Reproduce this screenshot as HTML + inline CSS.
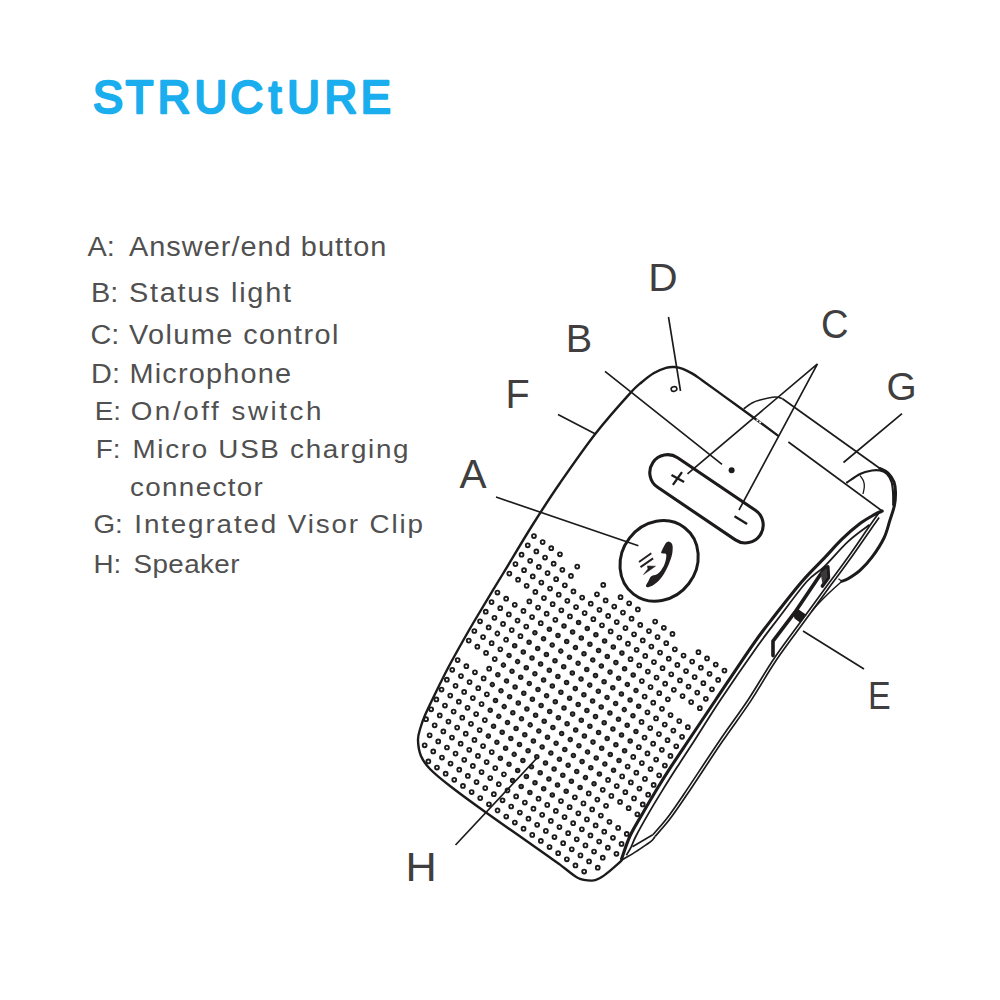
<!DOCTYPE html>
<html><head><meta charset="utf-8"><title>Structure</title>
<style>
html,body{margin:0;padding:0;background:#fff;}
svg{display:block;font-family:"Liberation Sans",sans-serif;}
</style></head>
<body>
<svg width="1000" height="1000" viewBox="0 0 1000 1000">
<rect width="1000" height="1000" fill="#fff"/>
<path d="M532.0 536.0 a1.9 1.9 0 1 0 3.9 0a1.9 1.9 0 1 0 -3.9 0M540.7 542.1 a1.9 1.9 0 1 0 3.9 0a1.9 1.9 0 1 0 -3.9 0M549.3 548.2 a1.9 1.9 0 1 0 3.9 0a1.9 1.9 0 1 0 -3.9 0M558.0 554.3 a1.9 1.9 0 1 0 3.9 0a1.9 1.9 0 1 0 -3.9 0M575.3 566.6 a1.9 1.9 0 1 0 3.9 0a1.9 1.9 0 1 0 -3.9 0M601.3 584.9 a1.9 1.9 0 1 0 3.9 0a1.9 1.9 0 1 0 -3.9 0M618.6 597.2 a1.9 1.9 0 1 0 3.9 0a1.9 1.9 0 1 0 -3.9 0M627.2 603.3 a1.9 1.9 0 1 0 3.9 0a1.9 1.9 0 1 0 -3.9 0M635.9 609.4 a1.9 1.9 0 1 0 3.9 0a1.9 1.9 0 1 0 -3.9 0M653.2 621.6 a1.9 1.9 0 1 0 3.9 0a1.9 1.9 0 1 0 -3.9 0M661.9 627.8 a1.9 1.9 0 1 0 3.9 0a1.9 1.9 0 1 0 -3.9 0M670.5 633.9 a1.9 1.9 0 1 0 3.9 0a1.9 1.9 0 1 0 -3.9 0M696.5 652.2 a1.9 1.9 0 1 0 3.9 0a1.9 1.9 0 1 0 -3.9 0M705.1 658.4 a1.9 1.9 0 1 0 3.9 0a1.9 1.9 0 1 0 -3.9 0M713.8 664.5 a1.9 1.9 0 1 0 3.9 0a1.9 1.9 0 1 0 -3.9 0M722.5 670.6 a1.9 1.9 0 1 0 3.9 0a1.9 1.9 0 1 0 -3.9 0M525.8 545.3 a1.9 1.9 0 1 0 3.9 0a1.9 1.9 0 1 0 -3.9 0M534.4 551.4 a1.9 1.9 0 1 0 3.9 0a1.9 1.9 0 1 0 -3.9 0M543.1 557.5 a1.9 1.9 0 1 0 3.9 0a1.9 1.9 0 1 0 -3.9 0M551.7 563.7 a1.9 1.9 0 1 0 3.9 0a1.9 1.9 0 1 0 -3.9 0M560.4 569.8 a1.9 1.9 0 1 0 3.9 0a1.9 1.9 0 1 0 -3.9 0M569.0 575.9 a1.9 1.9 0 1 0 3.9 0a1.9 1.9 0 1 0 -3.9 0M595.0 594.3 a1.9 1.9 0 1 0 3.9 0a1.9 1.9 0 1 0 -3.9 0M603.7 600.4 a1.9 1.9 0 1 0 3.9 0a1.9 1.9 0 1 0 -3.9 0M612.3 606.5 a1.9 1.9 0 1 0 3.9 0a1.9 1.9 0 1 0 -3.9 0M621.0 612.6 a1.9 1.9 0 1 0 3.9 0a1.9 1.9 0 1 0 -3.9 0M629.6 618.7 a1.9 1.9 0 1 0 3.9 0a1.9 1.9 0 1 0 -3.9 0M638.3 624.9 a1.9 1.9 0 1 0 3.9 0a1.9 1.9 0 1 0 -3.9 0M647.0 631.0 a1.9 1.9 0 1 0 3.9 0a1.9 1.9 0 1 0 -3.9 0M655.6 637.1 a1.9 1.9 0 1 0 3.9 0a1.9 1.9 0 1 0 -3.9 0M664.3 643.2 a1.9 1.9 0 1 0 3.9 0a1.9 1.9 0 1 0 -3.9 0M672.9 649.3 a1.9 1.9 0 1 0 3.9 0a1.9 1.9 0 1 0 -3.9 0M681.6 655.5 a1.9 1.9 0 1 0 3.9 0a1.9 1.9 0 1 0 -3.9 0M690.2 661.6 a1.9 1.9 0 1 0 3.9 0a1.9 1.9 0 1 0 -3.9 0M698.9 667.7 a1.9 1.9 0 1 0 3.9 0a1.9 1.9 0 1 0 -3.9 0M707.6 673.8 a1.9 1.9 0 1 0 3.9 0a1.9 1.9 0 1 0 -3.9 0M716.2 679.9 a1.9 1.9 0 1 0 3.9 0a1.9 1.9 0 1 0 -3.9 0M519.6 554.7 a1.9 1.9 0 1 0 3.9 0a1.9 1.9 0 1 0 -3.9 0M528.2 560.8 a1.9 1.9 0 1 0 3.9 0a1.9 1.9 0 1 0 -3.9 0M536.9 566.9 a1.9 1.9 0 1 0 3.9 0a1.9 1.9 0 1 0 -3.9 0M545.6 573.1 a1.9 1.9 0 1 0 3.9 0a1.9 1.9 0 1 0 -3.9 0M554.2 579.2 a1.9 1.9 0 1 0 3.9 0a1.9 1.9 0 1 0 -3.9 0M562.9 585.3 a1.9 1.9 0 1 0 3.9 0a1.9 1.9 0 1 0 -3.9 0M571.5 591.4 a1.9 1.9 0 1 0 3.9 0a1.9 1.9 0 1 0 -3.9 0M580.2 597.5 a1.9 1.9 0 1 0 3.9 0a1.9 1.9 0 1 0 -3.9 0M588.8 603.7 a1.9 1.9 0 1 0 3.9 0a1.9 1.9 0 1 0 -3.9 0M597.5 609.8 a1.9 1.9 0 1 0 3.9 0a1.9 1.9 0 1 0 -3.9 0M606.2 615.9 a1.9 1.9 0 1 0 3.9 0a1.9 1.9 0 1 0 -3.9 0M614.8 622.0 a1.9 1.9 0 1 0 3.9 0a1.9 1.9 0 1 0 -3.9 0M623.5 628.1 a1.9 1.9 0 1 0 3.9 0a1.9 1.9 0 1 0 -3.9 0M632.1 634.3 a1.9 1.9 0 1 0 3.9 0a1.9 1.9 0 1 0 -3.9 0M640.8 640.4 a1.9 1.9 0 1 0 3.9 0a1.9 1.9 0 1 0 -3.9 0M649.4 646.5 a1.9 1.9 0 1 0 3.9 0a1.9 1.9 0 1 0 -3.9 0M658.1 652.6 a1.9 1.9 0 1 0 3.9 0a1.9 1.9 0 1 0 -3.9 0M666.8 658.7 a1.9 1.9 0 1 0 3.9 0a1.9 1.9 0 1 0 -3.9 0M675.4 664.9 a1.9 1.9 0 1 0 3.9 0a1.9 1.9 0 1 0 -3.9 0M684.1 671.0 a1.9 1.9 0 1 0 3.9 0a1.9 1.9 0 1 0 -3.9 0M692.7 677.1 a1.9 1.9 0 1 0 3.9 0a1.9 1.9 0 1 0 -3.9 0M701.4 683.2 a1.9 1.9 0 1 0 3.9 0a1.9 1.9 0 1 0 -3.9 0M710.0 689.3 a1.9 1.9 0 1 0 3.9 0a1.9 1.9 0 1 0 -3.9 0M513.5 564.1 a1.9 1.9 0 1 0 3.9 0a1.9 1.9 0 1 0 -3.9 0M522.1 570.2 a1.9 1.9 0 1 0 3.9 0a1.9 1.9 0 1 0 -3.9 0M530.8 576.4 a1.9 1.9 0 1 0 3.9 0a1.9 1.9 0 1 0 -3.9 0M539.4 582.5 a1.9 1.9 0 1 0 3.9 0a1.9 1.9 0 1 0 -3.9 0M548.1 588.6 a1.9 1.9 0 1 0 3.9 0a1.9 1.9 0 1 0 -3.9 0M556.8 594.7 a1.9 1.9 0 1 0 3.9 0a1.9 1.9 0 1 0 -3.9 0M565.4 600.8 a1.9 1.9 0 1 0 3.9 0a1.9 1.9 0 1 0 -3.9 0M574.1 607.0 a1.9 1.9 0 1 0 3.9 0a1.9 1.9 0 1 0 -3.9 0M582.7 613.1 a1.9 1.9 0 1 0 3.9 0a1.9 1.9 0 1 0 -3.9 0M591.4 619.2 a1.9 1.9 0 1 0 3.9 0a1.9 1.9 0 1 0 -3.9 0M600.0 625.3 a1.9 1.9 0 1 0 3.9 0a1.9 1.9 0 1 0 -3.9 0M608.7 631.4 a1.9 1.9 0 1 0 3.9 0a1.9 1.9 0 1 0 -3.9 0M617.4 637.6 a1.9 1.9 0 1 0 3.9 0a1.9 1.9 0 1 0 -3.9 0M626.0 643.7 a1.9 1.9 0 1 0 3.9 0a1.9 1.9 0 1 0 -3.9 0M634.7 649.8 a1.9 1.9 0 1 0 3.9 0a1.9 1.9 0 1 0 -3.9 0M643.3 655.9 a1.9 1.9 0 1 0 3.9 0a1.9 1.9 0 1 0 -3.9 0M652.0 662.0 a1.9 1.9 0 1 0 3.9 0a1.9 1.9 0 1 0 -3.9 0M660.6 668.2 a1.9 1.9 0 1 0 3.9 0a1.9 1.9 0 1 0 -3.9 0M669.3 674.3 a1.9 1.9 0 1 0 3.9 0a1.9 1.9 0 1 0 -3.9 0M678.0 680.4 a1.9 1.9 0 1 0 3.9 0a1.9 1.9 0 1 0 -3.9 0M686.6 686.5 a1.9 1.9 0 1 0 3.9 0a1.9 1.9 0 1 0 -3.9 0M695.3 692.6 a1.9 1.9 0 1 0 3.9 0a1.9 1.9 0 1 0 -3.9 0M703.9 698.8 a1.9 1.9 0 1 0 3.9 0a1.9 1.9 0 1 0 -3.9 0M507.4 573.6 a1.9 1.9 0 1 0 3.9 0a1.9 1.9 0 1 0 -3.9 0M516.1 579.7 a1.9 1.9 0 1 0 3.9 0a1.9 1.9 0 1 0 -3.9 0M524.7 585.8 a1.9 1.9 0 1 0 3.9 0a1.9 1.9 0 1 0 -3.9 0M533.4 591.9 a1.9 1.9 0 1 0 3.9 0a1.9 1.9 0 1 0 -3.9 0M542.0 598.0 a1.9 1.9 0 1 0 3.9 0a1.9 1.9 0 1 0 -3.9 0M550.7 604.2 a1.9 1.9 0 1 0 3.9 0a1.9 1.9 0 1 0 -3.9 0M559.4 610.3 a1.9 1.9 0 1 0 3.9 0a1.9 1.9 0 1 0 -3.9 0M568.0 616.4 a1.9 1.9 0 1 0 3.9 0a1.9 1.9 0 1 0 -3.9 0M628.6 659.2 a1.9 1.9 0 1 0 3.9 0a1.9 1.9 0 1 0 -3.9 0M637.3 665.4 a1.9 1.9 0 1 0 3.9 0a1.9 1.9 0 1 0 -3.9 0M645.9 671.5 a1.9 1.9 0 1 0 3.9 0a1.9 1.9 0 1 0 -3.9 0M654.6 677.6 a1.9 1.9 0 1 0 3.9 0a1.9 1.9 0 1 0 -3.9 0M663.2 683.7 a1.9 1.9 0 1 0 3.9 0a1.9 1.9 0 1 0 -3.9 0M671.9 689.8 a1.9 1.9 0 1 0 3.9 0a1.9 1.9 0 1 0 -3.9 0M680.6 696.0 a1.9 1.9 0 1 0 3.9 0a1.9 1.9 0 1 0 -3.9 0M689.2 702.1 a1.9 1.9 0 1 0 3.9 0a1.9 1.9 0 1 0 -3.9 0M697.9 708.2 a1.9 1.9 0 1 0 3.9 0a1.9 1.9 0 1 0 -3.9 0M527.4 601.4 a1.9 1.9 0 1 0 3.9 0a1.9 1.9 0 1 0 -3.9 0M536.1 607.5 a1.9 1.9 0 1 0 3.9 0a1.9 1.9 0 1 0 -3.9 0M544.7 613.7 a1.9 1.9 0 1 0 3.9 0a1.9 1.9 0 1 0 -3.9 0M553.4 619.8 a1.9 1.9 0 1 0 3.9 0a1.9 1.9 0 1 0 -3.9 0M639.9 681.0 a1.9 1.9 0 1 0 3.9 0a1.9 1.9 0 1 0 -3.9 0M648.6 687.1 a1.9 1.9 0 1 0 3.9 0a1.9 1.9 0 1 0 -3.9 0M657.3 693.2 a1.9 1.9 0 1 0 3.9 0a1.9 1.9 0 1 0 -3.9 0M665.9 699.3 a1.9 1.9 0 1 0 3.9 0a1.9 1.9 0 1 0 -3.9 0M495.5 592.6 a1.9 1.9 0 1 0 3.9 0a1.9 1.9 0 1 0 -3.9 0M504.2 598.7 a1.9 1.9 0 1 0 3.9 0a1.9 1.9 0 1 0 -3.9 0M512.8 604.8 a1.9 1.9 0 1 0 3.9 0a1.9 1.9 0 1 0 -3.9 0M521.5 610.9 a1.9 1.9 0 1 0 3.9 0a1.9 1.9 0 1 0 -3.9 0M530.1 617.0 a1.9 1.9 0 1 0 3.9 0a1.9 1.9 0 1 0 -3.9 0M538.8 623.2 a1.9 1.9 0 1 0 3.9 0a1.9 1.9 0 1 0 -3.9 0M642.7 696.6 a1.9 1.9 0 1 0 3.9 0a1.9 1.9 0 1 0 -3.9 0M651.3 702.7 a1.9 1.9 0 1 0 3.9 0a1.9 1.9 0 1 0 -3.9 0M660.0 708.8 a1.9 1.9 0 1 0 3.9 0a1.9 1.9 0 1 0 -3.9 0M668.6 715.0 a1.9 1.9 0 1 0 3.9 0a1.9 1.9 0 1 0 -3.9 0M677.3 721.1 a1.9 1.9 0 1 0 3.9 0a1.9 1.9 0 1 0 -3.9 0M685.9 727.2 a1.9 1.9 0 1 0 3.9 0a1.9 1.9 0 1 0 -3.9 0M489.6 602.1 a1.9 1.9 0 1 0 3.9 0a1.9 1.9 0 1 0 -3.9 0M498.3 608.2 a1.9 1.9 0 1 0 3.9 0a1.9 1.9 0 1 0 -3.9 0M506.9 614.4 a1.9 1.9 0 1 0 3.9 0a1.9 1.9 0 1 0 -3.9 0M515.6 620.5 a1.9 1.9 0 1 0 3.9 0a1.9 1.9 0 1 0 -3.9 0M524.3 626.6 a1.9 1.9 0 1 0 3.9 0a1.9 1.9 0 1 0 -3.9 0M645.5 712.3 a1.9 1.9 0 1 0 3.9 0a1.9 1.9 0 1 0 -3.9 0M654.1 718.4 a1.9 1.9 0 1 0 3.9 0a1.9 1.9 0 1 0 -3.9 0M662.8 724.5 a1.9 1.9 0 1 0 3.9 0a1.9 1.9 0 1 0 -3.9 0M671.4 730.6 a1.9 1.9 0 1 0 3.9 0a1.9 1.9 0 1 0 -3.9 0M680.1 736.8 a1.9 1.9 0 1 0 3.9 0a1.9 1.9 0 1 0 -3.9 0M483.8 611.7 a1.9 1.9 0 1 0 3.9 0a1.9 1.9 0 1 0 -3.9 0M492.5 617.8 a1.9 1.9 0 1 0 3.9 0a1.9 1.9 0 1 0 -3.9 0M501.1 623.9 a1.9 1.9 0 1 0 3.9 0a1.9 1.9 0 1 0 -3.9 0M509.8 630.1 a1.9 1.9 0 1 0 3.9 0a1.9 1.9 0 1 0 -3.9 0M518.5 636.2 a1.9 1.9 0 1 0 3.9 0a1.9 1.9 0 1 0 -3.9 0M639.6 721.9 a1.9 1.9 0 1 0 3.9 0a1.9 1.9 0 1 0 -3.9 0M648.3 728.0 a1.9 1.9 0 1 0 3.9 0a1.9 1.9 0 1 0 -3.9 0M657.0 734.1 a1.9 1.9 0 1 0 3.9 0a1.9 1.9 0 1 0 -3.9 0M665.6 740.2 a1.9 1.9 0 1 0 3.9 0a1.9 1.9 0 1 0 -3.9 0M674.3 746.3 a1.9 1.9 0 1 0 3.9 0a1.9 1.9 0 1 0 -3.9 0M478.1 621.3 a1.9 1.9 0 1 0 3.9 0a1.9 1.9 0 1 0 -3.9 0M486.7 627.4 a1.9 1.9 0 1 0 3.9 0a1.9 1.9 0 1 0 -3.9 0M495.4 633.5 a1.9 1.9 0 1 0 3.9 0a1.9 1.9 0 1 0 -3.9 0M504.1 639.7 a1.9 1.9 0 1 0 3.9 0a1.9 1.9 0 1 0 -3.9 0M642.6 737.6 a1.9 1.9 0 1 0 3.9 0a1.9 1.9 0 1 0 -3.9 0M651.2 743.7 a1.9 1.9 0 1 0 3.9 0a1.9 1.9 0 1 0 -3.9 0M659.9 749.8 a1.9 1.9 0 1 0 3.9 0a1.9 1.9 0 1 0 -3.9 0M668.5 755.9 a1.9 1.9 0 1 0 3.9 0a1.9 1.9 0 1 0 -3.9 0M472.4 631.0 a1.9 1.9 0 1 0 3.9 0a1.9 1.9 0 1 0 -3.9 0M481.1 637.1 a1.9 1.9 0 1 0 3.9 0a1.9 1.9 0 1 0 -3.9 0M489.7 643.2 a1.9 1.9 0 1 0 3.9 0a1.9 1.9 0 1 0 -3.9 0M498.4 649.3 a1.9 1.9 0 1 0 3.9 0a1.9 1.9 0 1 0 -3.9 0M636.9 747.2 a1.9 1.9 0 1 0 3.9 0a1.9 1.9 0 1 0 -3.9 0M645.5 753.4 a1.9 1.9 0 1 0 3.9 0a1.9 1.9 0 1 0 -3.9 0M654.2 759.5 a1.9 1.9 0 1 0 3.9 0a1.9 1.9 0 1 0 -3.9 0M662.9 765.6 a1.9 1.9 0 1 0 3.9 0a1.9 1.9 0 1 0 -3.9 0M466.8 640.6 a1.9 1.9 0 1 0 3.9 0a1.9 1.9 0 1 0 -3.9 0M475.4 646.7 a1.9 1.9 0 1 0 3.9 0a1.9 1.9 0 1 0 -3.9 0M484.1 652.9 a1.9 1.9 0 1 0 3.9 0a1.9 1.9 0 1 0 -3.9 0M492.8 659.0 a1.9 1.9 0 1 0 3.9 0a1.9 1.9 0 1 0 -3.9 0M631.3 756.9 a1.9 1.9 0 1 0 3.9 0a1.9 1.9 0 1 0 -3.9 0M639.9 763.0 a1.9 1.9 0 1 0 3.9 0a1.9 1.9 0 1 0 -3.9 0M648.6 769.1 a1.9 1.9 0 1 0 3.9 0a1.9 1.9 0 1 0 -3.9 0M657.2 775.3 a1.9 1.9 0 1 0 3.9 0a1.9 1.9 0 1 0 -3.9 0M487.2 668.7 a1.9 1.9 0 1 0 3.9 0a1.9 1.9 0 1 0 -3.9 0M625.7 766.6 a1.9 1.9 0 1 0 3.9 0a1.9 1.9 0 1 0 -3.9 0M634.4 772.7 a1.9 1.9 0 1 0 3.9 0a1.9 1.9 0 1 0 -3.9 0M643.0 778.9 a1.9 1.9 0 1 0 3.9 0a1.9 1.9 0 1 0 -3.9 0M651.7 785.0 a1.9 1.9 0 1 0 3.9 0a1.9 1.9 0 1 0 -3.9 0M455.7 660.1 a1.9 1.9 0 1 0 3.9 0a1.9 1.9 0 1 0 -3.9 0M464.4 666.2 a1.9 1.9 0 1 0 3.9 0a1.9 1.9 0 1 0 -3.9 0M473.0 672.3 a1.9 1.9 0 1 0 3.9 0a1.9 1.9 0 1 0 -3.9 0M481.7 678.4 a1.9 1.9 0 1 0 3.9 0a1.9 1.9 0 1 0 -3.9 0M620.2 776.4 a1.9 1.9 0 1 0 3.9 0a1.9 1.9 0 1 0 -3.9 0M628.9 782.5 a1.9 1.9 0 1 0 3.9 0a1.9 1.9 0 1 0 -3.9 0M637.5 788.6 a1.9 1.9 0 1 0 3.9 0a1.9 1.9 0 1 0 -3.9 0M646.2 794.7 a1.9 1.9 0 1 0 3.9 0a1.9 1.9 0 1 0 -3.9 0M450.3 669.8 a1.9 1.9 0 1 0 3.9 0a1.9 1.9 0 1 0 -3.9 0M459.0 676.0 a1.9 1.9 0 1 0 3.9 0a1.9 1.9 0 1 0 -3.9 0M467.6 682.1 a1.9 1.9 0 1 0 3.9 0a1.9 1.9 0 1 0 -3.9 0M476.3 688.2 a1.9 1.9 0 1 0 3.9 0a1.9 1.9 0 1 0 -3.9 0M484.9 694.3 a1.9 1.9 0 1 0 3.9 0a1.9 1.9 0 1 0 -3.9 0M606.1 780.0 a1.9 1.9 0 1 0 3.9 0a1.9 1.9 0 1 0 -3.9 0M614.8 786.1 a1.9 1.9 0 1 0 3.9 0a1.9 1.9 0 1 0 -3.9 0M623.4 792.2 a1.9 1.9 0 1 0 3.9 0a1.9 1.9 0 1 0 -3.9 0M632.1 798.4 a1.9 1.9 0 1 0 3.9 0a1.9 1.9 0 1 0 -3.9 0M640.8 804.5 a1.9 1.9 0 1 0 3.9 0a1.9 1.9 0 1 0 -3.9 0M444.9 679.7 a1.9 1.9 0 1 0 3.9 0a1.9 1.9 0 1 0 -3.9 0M453.6 685.8 a1.9 1.9 0 1 0 3.9 0a1.9 1.9 0 1 0 -3.9 0M462.2 691.9 a1.9 1.9 0 1 0 3.9 0a1.9 1.9 0 1 0 -3.9 0M470.9 698.0 a1.9 1.9 0 1 0 3.9 0a1.9 1.9 0 1 0 -3.9 0M479.6 704.1 a1.9 1.9 0 1 0 3.9 0a1.9 1.9 0 1 0 -3.9 0M600.8 789.8 a1.9 1.9 0 1 0 3.9 0a1.9 1.9 0 1 0 -3.9 0M609.4 795.9 a1.9 1.9 0 1 0 3.9 0a1.9 1.9 0 1 0 -3.9 0M618.1 802.0 a1.9 1.9 0 1 0 3.9 0a1.9 1.9 0 1 0 -3.9 0M626.7 808.2 a1.9 1.9 0 1 0 3.9 0a1.9 1.9 0 1 0 -3.9 0M635.4 814.3 a1.9 1.9 0 1 0 3.9 0a1.9 1.9 0 1 0 -3.9 0M439.6 689.5 a1.9 1.9 0 1 0 3.9 0a1.9 1.9 0 1 0 -3.9 0M448.3 695.6 a1.9 1.9 0 1 0 3.9 0a1.9 1.9 0 1 0 -3.9 0M456.9 701.7 a1.9 1.9 0 1 0 3.9 0a1.9 1.9 0 1 0 -3.9 0M465.6 707.8 a1.9 1.9 0 1 0 3.9 0a1.9 1.9 0 1 0 -3.9 0M474.2 714.0 a1.9 1.9 0 1 0 3.9 0a1.9 1.9 0 1 0 -3.9 0M482.9 720.1 a1.9 1.9 0 1 0 3.9 0a1.9 1.9 0 1 0 -3.9 0M586.8 793.5 a1.9 1.9 0 1 0 3.9 0a1.9 1.9 0 1 0 -3.9 0M595.4 799.6 a1.9 1.9 0 1 0 3.9 0a1.9 1.9 0 1 0 -3.9 0M604.1 805.8 a1.9 1.9 0 1 0 3.9 0a1.9 1.9 0 1 0 -3.9 0M434.4 699.4 a1.9 1.9 0 1 0 3.9 0a1.9 1.9 0 1 0 -3.9 0M443.0 705.5 a1.9 1.9 0 1 0 3.9 0a1.9 1.9 0 1 0 -3.9 0M451.7 711.6 a1.9 1.9 0 1 0 3.9 0a1.9 1.9 0 1 0 -3.9 0M460.3 717.7 a1.9 1.9 0 1 0 3.9 0a1.9 1.9 0 1 0 -3.9 0M469.0 723.8 a1.9 1.9 0 1 0 3.9 0a1.9 1.9 0 1 0 -3.9 0M477.7 730.0 a1.9 1.9 0 1 0 3.9 0a1.9 1.9 0 1 0 -3.9 0M572.9 797.3 a1.9 1.9 0 1 0 3.9 0a1.9 1.9 0 1 0 -3.9 0M581.5 803.4 a1.9 1.9 0 1 0 3.9 0a1.9 1.9 0 1 0 -3.9 0M590.2 809.5 a1.9 1.9 0 1 0 3.9 0a1.9 1.9 0 1 0 -3.9 0M598.9 815.6 a1.9 1.9 0 1 0 3.9 0a1.9 1.9 0 1 0 -3.9 0M607.5 821.8 a1.9 1.9 0 1 0 3.9 0a1.9 1.9 0 1 0 -3.9 0M616.2 827.9 a1.9 1.9 0 1 0 3.9 0a1.9 1.9 0 1 0 -3.9 0M624.8 834.0 a1.9 1.9 0 1 0 3.9 0a1.9 1.9 0 1 0 -3.9 0M429.2 709.3 a1.9 1.9 0 1 0 3.9 0a1.9 1.9 0 1 0 -3.9 0M437.8 715.4 a1.9 1.9 0 1 0 3.9 0a1.9 1.9 0 1 0 -3.9 0M446.5 721.5 a1.9 1.9 0 1 0 3.9 0a1.9 1.9 0 1 0 -3.9 0M455.2 727.6 a1.9 1.9 0 1 0 3.9 0a1.9 1.9 0 1 0 -3.9 0M463.8 733.7 a1.9 1.9 0 1 0 3.9 0a1.9 1.9 0 1 0 -3.9 0M472.5 739.9 a1.9 1.9 0 1 0 3.9 0a1.9 1.9 0 1 0 -3.9 0M481.1 746.0 a1.9 1.9 0 1 0 3.9 0a1.9 1.9 0 1 0 -3.9 0M489.8 752.1 a1.9 1.9 0 1 0 3.9 0a1.9 1.9 0 1 0 -3.9 0M559.0 801.1 a1.9 1.9 0 1 0 3.9 0a1.9 1.9 0 1 0 -3.9 0M567.7 807.2 a1.9 1.9 0 1 0 3.9 0a1.9 1.9 0 1 0 -3.9 0M576.4 813.3 a1.9 1.9 0 1 0 3.9 0a1.9 1.9 0 1 0 -3.9 0M585.0 819.4 a1.9 1.9 0 1 0 3.9 0a1.9 1.9 0 1 0 -3.9 0M593.7 825.5 a1.9 1.9 0 1 0 3.9 0a1.9 1.9 0 1 0 -3.9 0M602.3 831.7 a1.9 1.9 0 1 0 3.9 0a1.9 1.9 0 1 0 -3.9 0M611.0 837.8 a1.9 1.9 0 1 0 3.9 0a1.9 1.9 0 1 0 -3.9 0M619.6 843.9 a1.9 1.9 0 1 0 3.9 0a1.9 1.9 0 1 0 -3.9 0M424.1 719.2 a1.9 1.9 0 1 0 3.9 0a1.9 1.9 0 1 0 -3.9 0M432.7 725.3 a1.9 1.9 0 1 0 3.9 0a1.9 1.9 0 1 0 -3.9 0M441.4 731.4 a1.9 1.9 0 1 0 3.9 0a1.9 1.9 0 1 0 -3.9 0M450.0 737.5 a1.9 1.9 0 1 0 3.9 0a1.9 1.9 0 1 0 -3.9 0M458.7 743.7 a1.9 1.9 0 1 0 3.9 0a1.9 1.9 0 1 0 -3.9 0M467.3 749.8 a1.9 1.9 0 1 0 3.9 0a1.9 1.9 0 1 0 -3.9 0M476.0 755.9 a1.9 1.9 0 1 0 3.9 0a1.9 1.9 0 1 0 -3.9 0M484.7 762.0 a1.9 1.9 0 1 0 3.9 0a1.9 1.9 0 1 0 -3.9 0M493.3 768.1 a1.9 1.9 0 1 0 3.9 0a1.9 1.9 0 1 0 -3.9 0M502.0 774.3 a1.9 1.9 0 1 0 3.9 0a1.9 1.9 0 1 0 -3.9 0M536.6 798.7 a1.9 1.9 0 1 0 3.9 0a1.9 1.9 0 1 0 -3.9 0M545.3 804.9 a1.9 1.9 0 1 0 3.9 0a1.9 1.9 0 1 0 -3.9 0M553.9 811.0 a1.9 1.9 0 1 0 3.9 0a1.9 1.9 0 1 0 -3.9 0M562.6 817.1 a1.9 1.9 0 1 0 3.9 0a1.9 1.9 0 1 0 -3.9 0M571.2 823.2 a1.9 1.9 0 1 0 3.9 0a1.9 1.9 0 1 0 -3.9 0M579.9 829.3 a1.9 1.9 0 1 0 3.9 0a1.9 1.9 0 1 0 -3.9 0M588.5 835.5 a1.9 1.9 0 1 0 3.9 0a1.9 1.9 0 1 0 -3.9 0M597.2 841.6 a1.9 1.9 0 1 0 3.9 0a1.9 1.9 0 1 0 -3.9 0M605.9 847.7 a1.9 1.9 0 1 0 3.9 0a1.9 1.9 0 1 0 -3.9 0M614.5 853.8 a1.9 1.9 0 1 0 3.9 0a1.9 1.9 0 1 0 -3.9 0M427.7 735.3 a1.9 1.9 0 1 0 3.9 0a1.9 1.9 0 1 0 -3.9 0M436.3 741.4 a1.9 1.9 0 1 0 3.9 0a1.9 1.9 0 1 0 -3.9 0M445.0 747.5 a1.9 1.9 0 1 0 3.9 0a1.9 1.9 0 1 0 -3.9 0M453.6 753.6 a1.9 1.9 0 1 0 3.9 0a1.9 1.9 0 1 0 -3.9 0M462.3 759.8 a1.9 1.9 0 1 0 3.9 0a1.9 1.9 0 1 0 -3.9 0M470.9 765.9 a1.9 1.9 0 1 0 3.9 0a1.9 1.9 0 1 0 -3.9 0M479.6 772.0 a1.9 1.9 0 1 0 3.9 0a1.9 1.9 0 1 0 -3.9 0M488.3 778.1 a1.9 1.9 0 1 0 3.9 0a1.9 1.9 0 1 0 -3.9 0M496.9 784.2 a1.9 1.9 0 1 0 3.9 0a1.9 1.9 0 1 0 -3.9 0M505.6 790.4 a1.9 1.9 0 1 0 3.9 0a1.9 1.9 0 1 0 -3.9 0M514.2 796.5 a1.9 1.9 0 1 0 3.9 0a1.9 1.9 0 1 0 -3.9 0M522.9 802.6 a1.9 1.9 0 1 0 3.9 0a1.9 1.9 0 1 0 -3.9 0M531.5 808.7 a1.9 1.9 0 1 0 3.9 0a1.9 1.9 0 1 0 -3.9 0M540.2 814.8 a1.9 1.9 0 1 0 3.9 0a1.9 1.9 0 1 0 -3.9 0M548.9 821.0 a1.9 1.9 0 1 0 3.9 0a1.9 1.9 0 1 0 -3.9 0M557.5 827.1 a1.9 1.9 0 1 0 3.9 0a1.9 1.9 0 1 0 -3.9 0M566.2 833.2 a1.9 1.9 0 1 0 3.9 0a1.9 1.9 0 1 0 -3.9 0M574.8 839.3 a1.9 1.9 0 1 0 3.9 0a1.9 1.9 0 1 0 -3.9 0M583.5 845.4 a1.9 1.9 0 1 0 3.9 0a1.9 1.9 0 1 0 -3.9 0M592.1 851.6 a1.9 1.9 0 1 0 3.9 0a1.9 1.9 0 1 0 -3.9 0M600.8 857.7 a1.9 1.9 0 1 0 3.9 0a1.9 1.9 0 1 0 -3.9 0M422.7 745.3 a1.9 1.9 0 1 0 3.9 0a1.9 1.9 0 1 0 -3.9 0M431.3 751.4 a1.9 1.9 0 1 0 3.9 0a1.9 1.9 0 1 0 -3.9 0M440.0 757.5 a1.9 1.9 0 1 0 3.9 0a1.9 1.9 0 1 0 -3.9 0M448.6 763.6 a1.9 1.9 0 1 0 3.9 0a1.9 1.9 0 1 0 -3.9 0M457.3 769.7 a1.9 1.9 0 1 0 3.9 0a1.9 1.9 0 1 0 -3.9 0M465.9 775.9 a1.9 1.9 0 1 0 3.9 0a1.9 1.9 0 1 0 -3.9 0M474.6 782.0 a1.9 1.9 0 1 0 3.9 0a1.9 1.9 0 1 0 -3.9 0M483.3 788.1 a1.9 1.9 0 1 0 3.9 0a1.9 1.9 0 1 0 -3.9 0M491.9 794.2 a1.9 1.9 0 1 0 3.9 0a1.9 1.9 0 1 0 -3.9 0M500.6 800.3 a1.9 1.9 0 1 0 3.9 0a1.9 1.9 0 1 0 -3.9 0M509.2 806.5 a1.9 1.9 0 1 0 3.9 0a1.9 1.9 0 1 0 -3.9 0M517.9 812.6 a1.9 1.9 0 1 0 3.9 0a1.9 1.9 0 1 0 -3.9 0M526.5 818.7 a1.9 1.9 0 1 0 3.9 0a1.9 1.9 0 1 0 -3.9 0M535.2 824.8 a1.9 1.9 0 1 0 3.9 0a1.9 1.9 0 1 0 -3.9 0M543.9 830.9 a1.9 1.9 0 1 0 3.9 0a1.9 1.9 0 1 0 -3.9 0M552.5 837.1 a1.9 1.9 0 1 0 3.9 0a1.9 1.9 0 1 0 -3.9 0M561.2 843.2 a1.9 1.9 0 1 0 3.9 0a1.9 1.9 0 1 0 -3.9 0M569.8 849.3 a1.9 1.9 0 1 0 3.9 0a1.9 1.9 0 1 0 -3.9 0M578.5 855.4 a1.9 1.9 0 1 0 3.9 0a1.9 1.9 0 1 0 -3.9 0M587.1 861.5 a1.9 1.9 0 1 0 3.9 0a1.9 1.9 0 1 0 -3.9 0M595.8 867.7 a1.9 1.9 0 1 0 3.9 0a1.9 1.9 0 1 0 -3.9 0M426.4 761.4 a1.9 1.9 0 1 0 3.9 0a1.9 1.9 0 1 0 -3.9 0M435.0 767.5 a1.9 1.9 0 1 0 3.9 0a1.9 1.9 0 1 0 -3.9 0M443.7 773.7 a1.9 1.9 0 1 0 3.9 0a1.9 1.9 0 1 0 -3.9 0M452.3 779.8 a1.9 1.9 0 1 0 3.9 0a1.9 1.9 0 1 0 -3.9 0M461.0 785.9 a1.9 1.9 0 1 0 3.9 0a1.9 1.9 0 1 0 -3.9 0M469.7 792.0 a1.9 1.9 0 1 0 3.9 0a1.9 1.9 0 1 0 -3.9 0M478.3 798.1 a1.9 1.9 0 1 0 3.9 0a1.9 1.9 0 1 0 -3.9 0M487.0 804.3 a1.9 1.9 0 1 0 3.9 0a1.9 1.9 0 1 0 -3.9 0M495.6 810.4 a1.9 1.9 0 1 0 3.9 0a1.9 1.9 0 1 0 -3.9 0M504.3 816.5 a1.9 1.9 0 1 0 3.9 0a1.9 1.9 0 1 0 -3.9 0M512.9 822.6 a1.9 1.9 0 1 0 3.9 0a1.9 1.9 0 1 0 -3.9 0M521.6 828.7 a1.9 1.9 0 1 0 3.9 0a1.9 1.9 0 1 0 -3.9 0M530.3 834.9 a1.9 1.9 0 1 0 3.9 0a1.9 1.9 0 1 0 -3.9 0M538.9 841.0 a1.9 1.9 0 1 0 3.9 0a1.9 1.9 0 1 0 -3.9 0M547.6 847.1 a1.9 1.9 0 1 0 3.9 0a1.9 1.9 0 1 0 -3.9 0M556.2 853.2 a1.9 1.9 0 1 0 3.9 0a1.9 1.9 0 1 0 -3.9 0M564.9 859.3 a1.9 1.9 0 1 0 3.9 0a1.9 1.9 0 1 0 -3.9 0M573.5 865.5 a1.9 1.9 0 1 0 3.9 0a1.9 1.9 0 1 0 -3.9 0M582.2 871.6 a1.9 1.9 0 1 0 3.9 0a1.9 1.9 0 1 0 -3.9 0" fill="#fff" stroke="#1c1a1b" stroke-width="1.85"/>
<path d="M576.7 622.5 a1.9 1.9 0 1 0 3.8 0a1.9 1.9 0 1 0 -3.8 0M585.4 628.6 a1.9 1.9 0 1 0 3.8 0a1.9 1.9 0 1 0 -3.8 0M594.0 634.8 a1.9 1.9 0 1 0 3.8 0a1.9 1.9 0 1 0 -3.8 0M602.7 640.9 a1.9 1.9 0 1 0 3.8 0a1.9 1.9 0 1 0 -3.8 0M611.4 647.0 a1.9 1.9 0 1 0 3.8 0a1.9 1.9 0 1 0 -3.8 0M620.0 653.1 a1.9 1.9 0 1 0 3.8 0a1.9 1.9 0 1 0 -3.8 0M562.1 625.9 a1.9 1.9 0 1 0 3.8 0a1.9 1.9 0 1 0 -3.8 0M570.7 632.0 a1.9 1.9 0 1 0 3.8 0a1.9 1.9 0 1 0 -3.8 0M579.4 638.1 a1.9 1.9 0 1 0 3.8 0a1.9 1.9 0 1 0 -3.8 0M588.0 644.3 a1.9 1.9 0 1 0 3.8 0a1.9 1.9 0 1 0 -3.8 0M596.7 650.4 a1.9 1.9 0 1 0 3.8 0a1.9 1.9 0 1 0 -3.8 0M605.4 656.5 a1.9 1.9 0 1 0 3.8 0a1.9 1.9 0 1 0 -3.8 0M614.0 662.6 a1.9 1.9 0 1 0 3.8 0a1.9 1.9 0 1 0 -3.8 0M622.7 668.7 a1.9 1.9 0 1 0 3.8 0a1.9 1.9 0 1 0 -3.8 0M631.3 674.9 a1.9 1.9 0 1 0 3.8 0a1.9 1.9 0 1 0 -3.8 0M547.5 629.3 a1.9 1.9 0 1 0 3.8 0a1.9 1.9 0 1 0 -3.8 0M556.1 635.4 a1.9 1.9 0 1 0 3.8 0a1.9 1.9 0 1 0 -3.8 0M564.8 641.5 a1.9 1.9 0 1 0 3.8 0a1.9 1.9 0 1 0 -3.8 0M573.5 647.6 a1.9 1.9 0 1 0 3.8 0a1.9 1.9 0 1 0 -3.8 0M582.1 653.8 a1.9 1.9 0 1 0 3.8 0a1.9 1.9 0 1 0 -3.8 0M590.8 659.9 a1.9 1.9 0 1 0 3.8 0a1.9 1.9 0 1 0 -3.8 0M599.4 666.0 a1.9 1.9 0 1 0 3.8 0a1.9 1.9 0 1 0 -3.8 0M608.1 672.1 a1.9 1.9 0 1 0 3.8 0a1.9 1.9 0 1 0 -3.8 0M616.7 678.2 a1.9 1.9 0 1 0 3.8 0a1.9 1.9 0 1 0 -3.8 0M625.4 684.4 a1.9 1.9 0 1 0 3.8 0a1.9 1.9 0 1 0 -3.8 0M634.1 690.5 a1.9 1.9 0 1 0 3.8 0a1.9 1.9 0 1 0 -3.8 0M533.0 632.7 a1.9 1.9 0 1 0 3.8 0a1.9 1.9 0 1 0 -3.8 0M541.6 638.8 a1.9 1.9 0 1 0 3.8 0a1.9 1.9 0 1 0 -3.8 0M550.3 645.0 a1.9 1.9 0 1 0 3.8 0a1.9 1.9 0 1 0 -3.8 0M558.9 651.1 a1.9 1.9 0 1 0 3.8 0a1.9 1.9 0 1 0 -3.8 0M567.6 657.2 a1.9 1.9 0 1 0 3.8 0a1.9 1.9 0 1 0 -3.8 0M576.2 663.3 a1.9 1.9 0 1 0 3.8 0a1.9 1.9 0 1 0 -3.8 0M584.9 669.4 a1.9 1.9 0 1 0 3.8 0a1.9 1.9 0 1 0 -3.8 0M593.6 675.6 a1.9 1.9 0 1 0 3.8 0a1.9 1.9 0 1 0 -3.8 0M602.2 681.7 a1.9 1.9 0 1 0 3.8 0a1.9 1.9 0 1 0 -3.8 0M610.9 687.8 a1.9 1.9 0 1 0 3.8 0a1.9 1.9 0 1 0 -3.8 0M619.5 693.9 a1.9 1.9 0 1 0 3.8 0a1.9 1.9 0 1 0 -3.8 0M628.2 700.0 a1.9 1.9 0 1 0 3.8 0a1.9 1.9 0 1 0 -3.8 0M636.8 706.2 a1.9 1.9 0 1 0 3.8 0a1.9 1.9 0 1 0 -3.8 0M527.2 642.3 a1.9 1.9 0 1 0 3.8 0a1.9 1.9 0 1 0 -3.8 0M535.8 648.4 a1.9 1.9 0 1 0 3.8 0a1.9 1.9 0 1 0 -3.8 0M544.5 654.5 a1.9 1.9 0 1 0 3.8 0a1.9 1.9 0 1 0 -3.8 0M553.1 660.7 a1.9 1.9 0 1 0 3.8 0a1.9 1.9 0 1 0 -3.8 0M561.8 666.8 a1.9 1.9 0 1 0 3.8 0a1.9 1.9 0 1 0 -3.8 0M570.4 672.9 a1.9 1.9 0 1 0 3.8 0a1.9 1.9 0 1 0 -3.8 0M579.1 679.0 a1.9 1.9 0 1 0 3.8 0a1.9 1.9 0 1 0 -3.8 0M587.8 685.1 a1.9 1.9 0 1 0 3.8 0a1.9 1.9 0 1 0 -3.8 0M596.4 691.3 a1.9 1.9 0 1 0 3.8 0a1.9 1.9 0 1 0 -3.8 0M605.1 697.4 a1.9 1.9 0 1 0 3.8 0a1.9 1.9 0 1 0 -3.8 0M613.7 703.5 a1.9 1.9 0 1 0 3.8 0a1.9 1.9 0 1 0 -3.8 0M622.4 709.6 a1.9 1.9 0 1 0 3.8 0a1.9 1.9 0 1 0 -3.8 0M631.0 715.7 a1.9 1.9 0 1 0 3.8 0a1.9 1.9 0 1 0 -3.8 0M512.8 645.8 a1.9 1.9 0 1 0 3.8 0a1.9 1.9 0 1 0 -3.8 0M521.4 651.9 a1.9 1.9 0 1 0 3.8 0a1.9 1.9 0 1 0 -3.8 0M530.1 658.0 a1.9 1.9 0 1 0 3.8 0a1.9 1.9 0 1 0 -3.8 0M538.7 664.1 a1.9 1.9 0 1 0 3.8 0a1.9 1.9 0 1 0 -3.8 0M547.4 670.3 a1.9 1.9 0 1 0 3.8 0a1.9 1.9 0 1 0 -3.8 0M556.0 676.4 a1.9 1.9 0 1 0 3.8 0a1.9 1.9 0 1 0 -3.8 0M564.7 682.5 a1.9 1.9 0 1 0 3.8 0a1.9 1.9 0 1 0 -3.8 0M573.4 688.6 a1.9 1.9 0 1 0 3.8 0a1.9 1.9 0 1 0 -3.8 0M582.0 694.7 a1.9 1.9 0 1 0 3.8 0a1.9 1.9 0 1 0 -3.8 0M590.7 700.9 a1.9 1.9 0 1 0 3.8 0a1.9 1.9 0 1 0 -3.8 0M599.3 707.0 a1.9 1.9 0 1 0 3.8 0a1.9 1.9 0 1 0 -3.8 0M608.0 713.1 a1.9 1.9 0 1 0 3.8 0a1.9 1.9 0 1 0 -3.8 0M616.6 719.2 a1.9 1.9 0 1 0 3.8 0a1.9 1.9 0 1 0 -3.8 0M625.3 725.3 a1.9 1.9 0 1 0 3.8 0a1.9 1.9 0 1 0 -3.8 0M634.0 731.5 a1.9 1.9 0 1 0 3.8 0a1.9 1.9 0 1 0 -3.8 0M507.1 655.4 a1.9 1.9 0 1 0 3.8 0a1.9 1.9 0 1 0 -3.8 0M515.7 661.6 a1.9 1.9 0 1 0 3.8 0a1.9 1.9 0 1 0 -3.8 0M524.4 667.7 a1.9 1.9 0 1 0 3.8 0a1.9 1.9 0 1 0 -3.8 0M533.0 673.8 a1.9 1.9 0 1 0 3.8 0a1.9 1.9 0 1 0 -3.8 0M541.7 679.9 a1.9 1.9 0 1 0 3.8 0a1.9 1.9 0 1 0 -3.8 0M550.4 686.0 a1.9 1.9 0 1 0 3.8 0a1.9 1.9 0 1 0 -3.8 0M559.0 692.2 a1.9 1.9 0 1 0 3.8 0a1.9 1.9 0 1 0 -3.8 0M567.7 698.3 a1.9 1.9 0 1 0 3.8 0a1.9 1.9 0 1 0 -3.8 0M576.3 704.4 a1.9 1.9 0 1 0 3.8 0a1.9 1.9 0 1 0 -3.8 0M585.0 710.5 a1.9 1.9 0 1 0 3.8 0a1.9 1.9 0 1 0 -3.8 0M593.6 716.6 a1.9 1.9 0 1 0 3.8 0a1.9 1.9 0 1 0 -3.8 0M602.3 722.8 a1.9 1.9 0 1 0 3.8 0a1.9 1.9 0 1 0 -3.8 0M611.0 728.9 a1.9 1.9 0 1 0 3.8 0a1.9 1.9 0 1 0 -3.8 0M619.6 735.0 a1.9 1.9 0 1 0 3.8 0a1.9 1.9 0 1 0 -3.8 0M628.3 741.1 a1.9 1.9 0 1 0 3.8 0a1.9 1.9 0 1 0 -3.8 0M501.5 665.1 a1.9 1.9 0 1 0 3.8 0a1.9 1.9 0 1 0 -3.8 0M510.1 671.2 a1.9 1.9 0 1 0 3.8 0a1.9 1.9 0 1 0 -3.8 0M518.8 677.3 a1.9 1.9 0 1 0 3.8 0a1.9 1.9 0 1 0 -3.8 0M527.4 683.5 a1.9 1.9 0 1 0 3.8 0a1.9 1.9 0 1 0 -3.8 0M536.1 689.6 a1.9 1.9 0 1 0 3.8 0a1.9 1.9 0 1 0 -3.8 0M544.7 695.7 a1.9 1.9 0 1 0 3.8 0a1.9 1.9 0 1 0 -3.8 0M553.4 701.8 a1.9 1.9 0 1 0 3.8 0a1.9 1.9 0 1 0 -3.8 0M562.1 707.9 a1.9 1.9 0 1 0 3.8 0a1.9 1.9 0 1 0 -3.8 0M570.7 714.1 a1.9 1.9 0 1 0 3.8 0a1.9 1.9 0 1 0 -3.8 0M579.4 720.2 a1.9 1.9 0 1 0 3.8 0a1.9 1.9 0 1 0 -3.8 0M588.0 726.3 a1.9 1.9 0 1 0 3.8 0a1.9 1.9 0 1 0 -3.8 0M596.7 732.4 a1.9 1.9 0 1 0 3.8 0a1.9 1.9 0 1 0 -3.8 0M605.3 738.5 a1.9 1.9 0 1 0 3.8 0a1.9 1.9 0 1 0 -3.8 0M614.0 744.7 a1.9 1.9 0 1 0 3.8 0a1.9 1.9 0 1 0 -3.8 0M622.7 750.8 a1.9 1.9 0 1 0 3.8 0a1.9 1.9 0 1 0 -3.8 0M495.9 674.8 a1.9 1.9 0 1 0 3.8 0a1.9 1.9 0 1 0 -3.8 0M504.6 680.9 a1.9 1.9 0 1 0 3.8 0a1.9 1.9 0 1 0 -3.8 0M513.2 687.1 a1.9 1.9 0 1 0 3.8 0a1.9 1.9 0 1 0 -3.8 0M521.9 693.2 a1.9 1.9 0 1 0 3.8 0a1.9 1.9 0 1 0 -3.8 0M530.5 699.3 a1.9 1.9 0 1 0 3.8 0a1.9 1.9 0 1 0 -3.8 0M539.2 705.4 a1.9 1.9 0 1 0 3.8 0a1.9 1.9 0 1 0 -3.8 0M547.8 711.5 a1.9 1.9 0 1 0 3.8 0a1.9 1.9 0 1 0 -3.8 0M556.5 717.7 a1.9 1.9 0 1 0 3.8 0a1.9 1.9 0 1 0 -3.8 0M565.2 723.8 a1.9 1.9 0 1 0 3.8 0a1.9 1.9 0 1 0 -3.8 0M573.8 729.9 a1.9 1.9 0 1 0 3.8 0a1.9 1.9 0 1 0 -3.8 0M582.5 736.0 a1.9 1.9 0 1 0 3.8 0a1.9 1.9 0 1 0 -3.8 0M591.1 742.1 a1.9 1.9 0 1 0 3.8 0a1.9 1.9 0 1 0 -3.8 0M599.8 748.3 a1.9 1.9 0 1 0 3.8 0a1.9 1.9 0 1 0 -3.8 0M608.4 754.4 a1.9 1.9 0 1 0 3.8 0a1.9 1.9 0 1 0 -3.8 0M617.1 760.5 a1.9 1.9 0 1 0 3.8 0a1.9 1.9 0 1 0 -3.8 0M490.4 684.6 a1.9 1.9 0 1 0 3.8 0a1.9 1.9 0 1 0 -3.8 0M499.1 690.7 a1.9 1.9 0 1 0 3.8 0a1.9 1.9 0 1 0 -3.8 0M507.7 696.8 a1.9 1.9 0 1 0 3.8 0a1.9 1.9 0 1 0 -3.8 0M516.4 702.9 a1.9 1.9 0 1 0 3.8 0a1.9 1.9 0 1 0 -3.8 0M525.0 709.0 a1.9 1.9 0 1 0 3.8 0a1.9 1.9 0 1 0 -3.8 0M533.7 715.2 a1.9 1.9 0 1 0 3.8 0a1.9 1.9 0 1 0 -3.8 0M542.3 721.3 a1.9 1.9 0 1 0 3.8 0a1.9 1.9 0 1 0 -3.8 0M551.0 727.4 a1.9 1.9 0 1 0 3.8 0a1.9 1.9 0 1 0 -3.8 0M559.7 733.5 a1.9 1.9 0 1 0 3.8 0a1.9 1.9 0 1 0 -3.8 0M568.3 739.6 a1.9 1.9 0 1 0 3.8 0a1.9 1.9 0 1 0 -3.8 0M577.0 745.8 a1.9 1.9 0 1 0 3.8 0a1.9 1.9 0 1 0 -3.8 0M585.6 751.9 a1.9 1.9 0 1 0 3.8 0a1.9 1.9 0 1 0 -3.8 0M594.3 758.0 a1.9 1.9 0 1 0 3.8 0a1.9 1.9 0 1 0 -3.8 0M602.9 764.1 a1.9 1.9 0 1 0 3.8 0a1.9 1.9 0 1 0 -3.8 0M611.6 770.2 a1.9 1.9 0 1 0 3.8 0a1.9 1.9 0 1 0 -3.8 0M493.6 700.4 a1.9 1.9 0 1 0 3.8 0a1.9 1.9 0 1 0 -3.8 0M502.3 706.6 a1.9 1.9 0 1 0 3.8 0a1.9 1.9 0 1 0 -3.8 0M510.9 712.7 a1.9 1.9 0 1 0 3.8 0a1.9 1.9 0 1 0 -3.8 0M519.6 718.8 a1.9 1.9 0 1 0 3.8 0a1.9 1.9 0 1 0 -3.8 0M528.3 724.9 a1.9 1.9 0 1 0 3.8 0a1.9 1.9 0 1 0 -3.8 0M536.9 731.0 a1.9 1.9 0 1 0 3.8 0a1.9 1.9 0 1 0 -3.8 0M545.6 737.2 a1.9 1.9 0 1 0 3.8 0a1.9 1.9 0 1 0 -3.8 0M554.2 743.3 a1.9 1.9 0 1 0 3.8 0a1.9 1.9 0 1 0 -3.8 0M562.9 749.4 a1.9 1.9 0 1 0 3.8 0a1.9 1.9 0 1 0 -3.8 0M571.5 755.5 a1.9 1.9 0 1 0 3.8 0a1.9 1.9 0 1 0 -3.8 0M580.2 761.6 a1.9 1.9 0 1 0 3.8 0a1.9 1.9 0 1 0 -3.8 0M588.9 767.8 a1.9 1.9 0 1 0 3.8 0a1.9 1.9 0 1 0 -3.8 0M597.5 773.9 a1.9 1.9 0 1 0 3.8 0a1.9 1.9 0 1 0 -3.8 0M488.3 710.2 a1.9 1.9 0 1 0 3.8 0a1.9 1.9 0 1 0 -3.8 0M496.9 716.4 a1.9 1.9 0 1 0 3.8 0a1.9 1.9 0 1 0 -3.8 0M505.6 722.5 a1.9 1.9 0 1 0 3.8 0a1.9 1.9 0 1 0 -3.8 0M514.2 728.6 a1.9 1.9 0 1 0 3.8 0a1.9 1.9 0 1 0 -3.8 0M522.9 734.7 a1.9 1.9 0 1 0 3.8 0a1.9 1.9 0 1 0 -3.8 0M531.5 740.9 a1.9 1.9 0 1 0 3.8 0a1.9 1.9 0 1 0 -3.8 0M540.2 747.0 a1.9 1.9 0 1 0 3.8 0a1.9 1.9 0 1 0 -3.8 0M548.9 753.1 a1.9 1.9 0 1 0 3.8 0a1.9 1.9 0 1 0 -3.8 0M557.5 759.2 a1.9 1.9 0 1 0 3.8 0a1.9 1.9 0 1 0 -3.8 0M566.2 765.3 a1.9 1.9 0 1 0 3.8 0a1.9 1.9 0 1 0 -3.8 0M574.8 771.5 a1.9 1.9 0 1 0 3.8 0a1.9 1.9 0 1 0 -3.8 0M583.5 777.6 a1.9 1.9 0 1 0 3.8 0a1.9 1.9 0 1 0 -3.8 0M592.1 783.7 a1.9 1.9 0 1 0 3.8 0a1.9 1.9 0 1 0 -3.8 0M491.6 726.2 a1.9 1.9 0 1 0 3.8 0a1.9 1.9 0 1 0 -3.8 0M500.3 732.3 a1.9 1.9 0 1 0 3.8 0a1.9 1.9 0 1 0 -3.8 0M508.9 738.4 a1.9 1.9 0 1 0 3.8 0a1.9 1.9 0 1 0 -3.8 0M517.6 744.6 a1.9 1.9 0 1 0 3.8 0a1.9 1.9 0 1 0 -3.8 0M526.2 750.7 a1.9 1.9 0 1 0 3.8 0a1.9 1.9 0 1 0 -3.8 0M534.9 756.8 a1.9 1.9 0 1 0 3.8 0a1.9 1.9 0 1 0 -3.8 0M543.6 762.9 a1.9 1.9 0 1 0 3.8 0a1.9 1.9 0 1 0 -3.8 0M552.2 769.0 a1.9 1.9 0 1 0 3.8 0a1.9 1.9 0 1 0 -3.8 0M560.9 775.2 a1.9 1.9 0 1 0 3.8 0a1.9 1.9 0 1 0 -3.8 0M569.5 781.3 a1.9 1.9 0 1 0 3.8 0a1.9 1.9 0 1 0 -3.8 0M578.2 787.4 a1.9 1.9 0 1 0 3.8 0a1.9 1.9 0 1 0 -3.8 0M486.4 736.1 a1.9 1.9 0 1 0 3.8 0a1.9 1.9 0 1 0 -3.8 0M495.0 742.2 a1.9 1.9 0 1 0 3.8 0a1.9 1.9 0 1 0 -3.8 0M503.7 748.3 a1.9 1.9 0 1 0 3.8 0a1.9 1.9 0 1 0 -3.8 0M512.3 754.4 a1.9 1.9 0 1 0 3.8 0a1.9 1.9 0 1 0 -3.8 0M521.0 760.6 a1.9 1.9 0 1 0 3.8 0a1.9 1.9 0 1 0 -3.8 0M529.6 766.7 a1.9 1.9 0 1 0 3.8 0a1.9 1.9 0 1 0 -3.8 0M538.3 772.8 a1.9 1.9 0 1 0 3.8 0a1.9 1.9 0 1 0 -3.8 0M547.0 778.9 a1.9 1.9 0 1 0 3.8 0a1.9 1.9 0 1 0 -3.8 0M555.6 785.0 a1.9 1.9 0 1 0 3.8 0a1.9 1.9 0 1 0 -3.8 0M564.3 791.2 a1.9 1.9 0 1 0 3.8 0a1.9 1.9 0 1 0 -3.8 0M498.5 758.2 a1.9 1.9 0 1 0 3.8 0a1.9 1.9 0 1 0 -3.8 0M507.1 764.3 a1.9 1.9 0 1 0 3.8 0a1.9 1.9 0 1 0 -3.8 0M515.8 770.5 a1.9 1.9 0 1 0 3.8 0a1.9 1.9 0 1 0 -3.8 0M524.5 776.6 a1.9 1.9 0 1 0 3.8 0a1.9 1.9 0 1 0 -3.8 0M533.1 782.7 a1.9 1.9 0 1 0 3.8 0a1.9 1.9 0 1 0 -3.8 0M541.8 788.8 a1.9 1.9 0 1 0 3.8 0a1.9 1.9 0 1 0 -3.8 0M550.4 794.9 a1.9 1.9 0 1 0 3.8 0a1.9 1.9 0 1 0 -3.8 0M510.7 780.4 a1.9 1.9 0 1 0 3.8 0a1.9 1.9 0 1 0 -3.8 0M519.3 786.5 a1.9 1.9 0 1 0 3.8 0a1.9 1.9 0 1 0 -3.8 0M528.0 792.6 a1.9 1.9 0 1 0 3.8 0a1.9 1.9 0 1 0 -3.8 0" fill="#5c5c5c" stroke="#1c1a1b" stroke-width="1.75"/>
<path d="M621.6 860.4C621.1 860.9 620.9 861.3 618.8 863.2C616.7 865.1 612.1 869.1 609.0 871.6C605.9 874.1 602.8 876.5 600.0 878.0C597.2 879.5 595.7 880.6 592.0 880.6C588.3 880.6 583.3 880.7 578.0 878.0C572.7 875.3 564.7 868.0 560.0 864.6C555.3 861.2 562.3 866.2 550.0 857.5C537.7 848.8 502.7 824.4 486.0 812.5C469.3 800.6 459.3 793.2 450.0 786.0C440.7 778.8 434.8 774.0 430.0 769.0C425.2 764.0 423.0 760.8 421.0 756.0C419.0 751.2 418.1 744.7 418.0 740.0C417.9 735.3 419.2 732.2 420.4 728.0C421.6 723.8 422.6 720.8 425.2 714.8C427.8 708.8 432.2 699.8 436.0 692.0C439.8 684.2 443.8 676.0 448.0 668.0C452.2 660.0 456.7 652.0 461.2 644.0C465.7 636.0 467.9 631.9 475.0 620.0C482.1 608.1 494.1 588.3 503.7 572.5C513.3 556.7 523.1 539.9 532.5 525.0C541.9 510.1 549.4 498.3 560.0 483.0C570.6 467.7 584.3 447.9 596.0 433.0C607.7 418.1 622.3 401.9 630.0 393.4C637.7 384.9 638.0 385.4 642.0 382.0C646.0 378.6 650.0 375.4 654.0 373.0C658.0 370.6 662.6 368.8 666.0 367.8C669.4 366.8 671.6 366.8 674.4 367.0C677.2 367.2 679.8 367.7 682.8 368.8C685.8 369.9 689.2 371.7 692.4 373.6C695.6 375.5 696.4 376.2 702.0 380.2C707.6 384.2 718.0 391.8 726.0 397.6C734.0 403.4 741.4 408.7 750.0 415.0C758.6 421.3 773.0 432.0 777.6 435.4" fill="none" stroke="#1c1a1b" stroke-width="2.4" stroke-linecap="round" stroke-linejoin="round"/>
<path d="M788.4 442L882.2 511" fill="none" stroke="#1c1a1b" stroke-width="1.7"/>
<path d="M882.2 511.0C880.9 511.6 878.1 512.5 874.4 514.6C870.7 516.7 865.4 519.5 860.0 523.6C854.6 527.7 848.0 533.4 842.0 539.2C836.0 545.0 830.7 551.4 824.0 558.4C817.3 565.4 810.3 571.9 802.0 581.5C793.7 591.1 782.6 605.5 774.4 616.0C766.2 626.5 762.6 630.8 752.8 644.8C743.0 658.8 726.3 684.1 715.6 700.0C704.9 715.9 696.1 729.1 688.8 740.0C681.5 750.9 677.2 757.2 672.0 765.2C666.8 773.2 662.6 779.8 657.6 788.0C652.6 796.2 646.6 806.4 642.0 814.4C637.4 822.4 633.4 828.6 630.0 836.0C626.6 843.4 623.0 855.0 621.6 858.8" fill="none" stroke="#1c1a1b" stroke-width="3.1" stroke-linecap="round"/>
<path d="M869.6 524.8C866.0 527.6 855.6 534.6 848.0 541.6C840.4 548.6 830.9 560.1 824.0 566.8C817.1 573.4 814.3 573.1 806.8 581.5C799.3 589.9 787.4 606.5 779.2 617.2C771.0 628.0 767.4 632.2 757.6 646.0C747.8 659.8 730.9 684.3 720.4 700.0C709.9 715.7 702.1 728.7 694.8 740.0C687.5 751.3 682.2 759.2 676.8 767.6C671.4 776.0 667.2 782.6 662.4 790.4C657.6 798.2 652.4 806.8 648.0 814.4C643.6 822.0 638.8 830.6 636.0 836.0C633.2 841.4 632.8 843.6 631.2 846.8C629.6 850.0 627.2 853.8 626.4 855.2" fill="none" stroke="#1c1a1b" stroke-width="1.8"/>
<path d="M881.0 512.5C880.3 513.0 882.3 508.3 876.8 515.8C871.3 523.2 856.0 546.0 848.0 557.2C840.0 568.4 836.7 572.5 829.0 583.0C821.3 593.5 811.1 607.5 802.0 620.0C792.9 632.5 783.4 644.7 774.4 658.0C765.4 671.3 757.1 686.3 748.0 700.0C738.9 713.7 730.7 724.3 720.0 740.0C709.3 755.7 692.8 781.0 684.0 794.0C675.2 807.0 672.4 811.2 667.2 818.0C662.0 824.8 655.2 832.0 652.8 834.8" fill="none" stroke="#1c1a1b" stroke-width="1.7"/>
<path d="M879.1 517.4C874.3 524.3 858.3 547.6 850.3 558.8C842.3 570.0 839.0 574.1 831.3 584.6C823.6 595.1 813.4 609.1 804.3 621.6C795.2 634.1 785.7 646.3 776.7 659.6C767.7 672.9 759.4 687.9 750.3 701.6C741.2 715.3 733.0 725.9 722.3 741.6C711.6 757.3 695.1 782.6 686.3 795.6C677.5 808.6 674.7 812.8 669.5 819.6C664.3 826.4 657.5 833.6 655.1 836.4" fill="none" stroke="#1c1a1b" stroke-width="1.7"/>
<path d="M655.0 836.5C654.6 837.1 653.7 838.8 652.5 840.0C651.3 841.2 650.8 841.6 648.0 843.5C645.2 845.4 640.0 849.1 636.0 851.6C632.0 854.1 626.6 857.2 624.0 858.8C621.4 860.4 621.1 860.6 620.5 861.0" fill="none" stroke="#1c1a1b" stroke-width="1.7"/>
<path d="M652.8 834.8L632.4 846.8" fill="none" stroke="#1c1a1b" stroke-width="1.6"/>
<path d="M743.8 408.8C745.1 407.8 749.3 404.5 752.0 403.0C754.7 401.5 756.2 401.0 760.0 400.0C763.8 399.0 771.2 397.2 775.0 397.0C778.8 396.8 781.2 398.5 782.5 398.8" fill="none" stroke="#1c1a1b" stroke-width="1.6"/>
<path d="M782.5 398.75L880 468.5" fill="none" stroke="#1c1a1b" stroke-width="1.7"/>
<path d="M880.0 468.5C881.3 469.2 885.7 470.8 888.0 473.0C890.3 475.2 892.8 478.8 894.0 482.0C895.2 485.2 895.4 488.2 895.5 492.0C895.6 495.8 895.4 500.3 894.5 505.0C893.6 509.7 891.8 514.5 890.0 520.0C888.2 525.5 887.0 531.8 884.0 538.0C881.0 544.2 876.0 551.8 872.0 557.2C868.0 562.6 864.0 566.8 860.0 570.4C856.0 574.0 851.0 577.0 848.0 578.8C845.0 580.6 843.0 580.8 842.0 581.2" fill="none" stroke="#1c1a1b" stroke-width="3" stroke-linecap="round"/>
<path d="M847.0 482.5C849.2 481.1 855.8 476.0 860.0 474.0C864.2 472.0 868.7 471.1 872.0 470.5C875.3 469.9 877.5 469.9 880.0 470.5C882.5 471.1 885.1 472.1 887.0 474.0C888.9 475.9 890.5 479.0 891.5 482.0C892.5 485.0 892.7 488.2 893.0 492.0C893.3 495.8 893.2 502.8 893.2 505.0" fill="none" stroke="#1c1a1b" stroke-width="2.1" stroke-linecap="round"/>
<path d="M860.0 475.5C860.6 476.4 862.8 479.1 863.5 481.0C864.2 482.9 864.4 484.8 864.3 487.0C864.2 489.2 863.2 492.8 863.0 494.0" fill="none" stroke="#1c1a1b" stroke-width="1.3"/>
<path d="M842 581.2L838.4 578.8" fill="none" stroke="#1c1a1b" stroke-width="1.3"/>
<path d="M842.0 581.2C840.0 583.0 834.0 588.2 830.0 592.0C826.0 595.8 821.0 600.8 818.0 604.0C815.0 607.2 813.0 609.8 812.0 611.0" fill="none" stroke="#1c1a1b" stroke-width="1.5"/>
<path d="M773 655.6L773 641.2L794.8 612.4L824.8 568L827.8 566.8L828.4 577.6L822.4 586" fill="none" stroke="#1c1a1b" stroke-width="3.6" stroke-linejoin="round" stroke-linecap="round"/>
<path d="M793 612.5L798 609L806.5 615L800 622.5L794.5 618.5Z" fill="#1c1a1b"/>
<path d="M820.5 573L826.5 568.5L827.5 577L822.5 584Z" fill="#3a3a3a"/>
<rect x="-64.75" y="-17.85" width="129.5" height="35.7" rx="17.85" transform="translate(706.5 498.8) rotate(34.05)" fill="#fff" stroke="#1c1a1b" stroke-width="3.1"/>
<path d="M671.5 475L684.1 482M682 472.2L672.9 484.8" fill="none" stroke="#1c1a1b" stroke-width="2.3"/>
<path d="M734.5 516.3L747.1 524" fill="none" stroke="#1c1a1b" stroke-width="2.5"/>
<ellipse cx="659.1" cy="560.9" rx="41.9" ry="37.4" transform="rotate(-52.4 659.1 560.9)" fill="#fff" stroke="#1c1a1b" stroke-width="3"/>
<path d="M666.0 542.8C666.3 542.6 667.7 541.6 668.4 541.6C669.1 541.6 670.8 542.4 671.4 543.1C672.0 543.8 672.6 545.4 672.7 547.0C672.8 548.6 672.5 552.6 672.0 554.8C671.5 557.0 670.0 561.3 669.0 563.8C668.0 566.3 665.6 571.1 664.2 573.4C662.8 575.7 659.8 579.6 658.2 581.2C656.6 582.8 653.6 584.9 652.2 585.7C650.8 586.5 648.2 587.2 647.4 587.2C646.6 587.2 645.8 586.4 645.9 585.7C646.0 585.0 647.3 583.0 648.0 581.8C648.7 580.6 649.9 577.4 651.0 576.4C652.1 575.4 655.1 575.3 656.4 574.6C657.7 573.9 659.6 572.3 660.6 571.0C661.6 569.7 663.5 566.6 664.2 565.0C664.9 563.4 665.7 560.4 666.0 559.0C666.3 557.6 666.4 555.5 666.3 554.8C666.2 554.1 665.8 553.8 665.1 553.6C664.4 553.4 661.6 553.6 661.2 553.0C660.8 552.4 661.8 550.8 662.4 549.4C663.0 548.0 665.5 543.7 666.0 542.8Z" fill="#231f20"/>
<path d="M639 562L651.3 553.3M640.5 567.1L653.1 558.4" fill="none" stroke="#231f20" stroke-width="1.9"/>
<path d="M647.4 565.9L655.5 566.2L643.5 574.6L647.9 568.9Z" fill="#231f20" stroke="#231f20" stroke-width="0.5" stroke-linejoin="round"/>
<ellipse cx="674" cy="389" rx="2.9" ry="2.3" transform="rotate(-15 674 389)" fill="#fff" stroke="#1c1a1b" stroke-width="1.6"/>
<circle cx="731.6" cy="470.2" r="3" fill="#1c1a1b"/>
<path d="M756.5 419.6L762 423.6" fill="none" stroke="#fff" stroke-width="1.6" stroke-dasharray="2 1.5"/>
<path d="M496.0 497.0 L638.4 545.8M605.0 371.4 L722.0 464.4M817.5 363.8 L687.5 473.8M817.5 363.8 L739.0 510.0M668.5 317.0 L680.5 391.0M864.0 669.0 L803.0 631.0M558.0 414.5 L595.5 434.0M902.0 413.6 L843.5 462.5M455.5 845.0 L537.0 758.0" fill="none" stroke="#1c1a1b" stroke-width="1.65"/>
<text transform="translate(459.60 488.00) scale(1.001 1)" font-size="40.58" fill="#403e3f">A</text>
<text transform="translate(565.83 351.60) scale(1.028 1)" font-size="38.55" fill="#403e3f">B</text>
<text transform="translate(821.10 337.50) scale(0.949 1)" font-size="40.14" fill="#403e3f">C</text>
<text transform="translate(648.15 291.10) scale(1.051 1)" font-size="38.70" fill="#403e3f">D</text>
<text transform="translate(868.07 709.00) scale(0.858 1)" font-size="39.71" fill="#403e3f">E</text>
<text transform="translate(505.43 407.60) scale(0.990 1)" font-size="40.00" fill="#403e3f">F</text>
<text transform="translate(886.46 399.62) scale(1.019 1)" font-size="38.03" fill="#403e3f">G</text>
<text transform="translate(405.54 880.80) scale(1.043 1)" font-size="41.45" fill="#403e3f">H</text>
<text transform="translate(87.5 256.0) scale(1.07 1)" font-size="27" fill="#505050">A:</text>
<text transform="translate(128.9 256.0) scale(1.07 1)" font-size="27" fill="#505050" textLength="240.6" lengthAdjust="spacing">Answer/end button</text>
<text transform="translate(91.1 302.0) scale(1.07 1)" font-size="27" fill="#505050">B:</text>
<text transform="translate(128.9 302.0) scale(1.07 1)" font-size="27" fill="#505050" textLength="151.5" lengthAdjust="spacing">Status light</text>
<text transform="translate(90.4 344.2) scale(1.07 1)" font-size="27" fill="#505050">C:</text>
<text transform="translate(128.9 344.2) scale(1.07 1)" font-size="27" fill="#505050" textLength="195.8" lengthAdjust="spacing">Volume control</text>
<text transform="translate(91.1 382.7) scale(1.07 1)" font-size="27" fill="#505050">D:</text>
<text transform="translate(129.5 382.7) scale(1.07 1)" font-size="27" fill="#505050" textLength="150.9" lengthAdjust="spacing">Microphone</text>
<text transform="translate(94.7 419.5) scale(1.07 1)" font-size="26" fill="#505050">E:</text>
<text transform="translate(130.7 419.5) scale(1.07 1)" font-size="26" fill="#505050" textLength="178.3" lengthAdjust="spacing">On/off switch</text>
<text transform="translate(95.8 458.4) scale(1.07 1)" font-size="26" fill="#505050">F:</text>
<text transform="translate(132.5 458.4) scale(1.07 1)" font-size="26" fill="#505050" textLength="258.0" lengthAdjust="spacing">Micro USB charging</text>
<text transform="translate(130.0 495.5) scale(1.07 1)" font-size="26" fill="#505050" textLength="124.1" lengthAdjust="spacing">connector</text>
<text transform="translate(93.5 533.0) scale(1.07 1)" font-size="26" fill="#505050">G:</text>
<text transform="translate(134.3 533.0) scale(1.07 1)" font-size="26" fill="#505050" textLength="269.8" lengthAdjust="spacing">Integrated Visor Clip</text>
<text transform="translate(93.5 572.9) scale(1.07 1)" font-size="26" fill="#505050">H:</text>
<text transform="translate(133.5 572.9) scale(1.07 1)" font-size="26" fill="#505050" textLength="99.0" lengthAdjust="spacing">Speaker</text>
<text transform="translate(93.3 113.2) scale(0.96 1)" x="-0.26 33.82 67.02 105.31 142.87 182.82 202.09 240.79 278.66" font-size="47" fill="#1aaeee" stroke="#1aaeee" stroke-width="2.7" stroke-linejoin="round">STRUCtURE</text>
</svg>
</body></html>
